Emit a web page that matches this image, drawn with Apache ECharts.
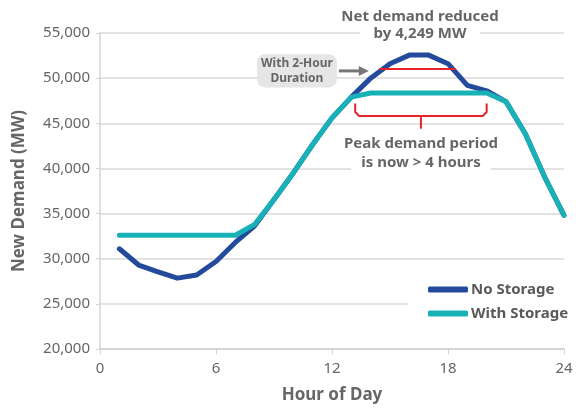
<!DOCTYPE html>
<html lang="en">
<head>
<meta charset="UTF-8">
<title>Net demand with storage</title>
<script src="https://cdn.jsdelivr.net/npm/echarts@6/dist/echarts.min.js"></script>
<style>
  html, body { margin: 0; padding: 0; background: #fff; }
  #chart { width: 580px; height: 417px; }
</style>
</head>
<body>
<div id="chart"></div>
<script>
// hours 1..24
var hours = [1, 2, 3, 4, 5, 6, 7, 8, 9, 10, 11, 12, 13, 14, 15, 16, 17, 18, 19, 20, 21, 22, 23, 24];
var noStorage = [31100, 29300, 28550, 27850, 28200, 29700, 31800, 33650, 36550, 39500, 42650, 45600,
                 47900, 50000, 51600, 52550, 52550, 51600, 49200, 48600, 47400, 43850, 39050, 34800];
var withStorage = [32600, 32600, 32600, 32600, 32600, 32600, 32600, 33800, 36550, 39500, 42650, 45600,
                   47900, 48350, 48350, 48350, 48350, 48350, 48350, 48350, 47400, 43850, 39050, 34800];
var xTicks = [0, 6, 12, 18, 24];
var yTicks = [20000, 25000, 30000, 35000, 40000, 45000, 50000, 55000];
var cutLevel = 51000;   // red line across the peak

var gray = '#666';
var font = 'Noto Sans';
var chart = echarts.init(document.getElementById('chart'));

function pairs(vals) {
  return hours.map(function (h, i) { return [h, vals[i]]; });
}

chart.setOption({
  backgroundColor: '#fff',
  textStyle: { fontFamily: font },
  animation: false,
  grid: { left: 100, right: 16, top: 33, bottom: 68 },
  legend: {
    orient: 'vertical',
    left: 408, top: 279,
    padding: [3, 4, 3, 20],
    backgroundColor: '#fff',
    itemGap: 9,
    itemWidth: 40, itemHeight: 6,
    icon: 'roundRect',
    textStyle: { fontSize: 15, fontWeight: 'bold', color: '#5a5a5a', fontFamily: font, padding: [0, 0, 0, -2] },
    data: ['No Storage', 'With Storage']
  },
  xAxis: {
    type: 'value',
    min: xTicks[0], max: xTicks[xTicks.length - 1], interval: 6,
    name: 'Hour of Day',
    nameLocation: 'middle', nameGap: 38,
    nameTextStyle: { fontSize: 17, fontWeight: 'bold', color: gray },
    axisLine: { lineStyle: { color: '#d4d4d4', width: 2 } },
    axisTick: { show: true, length: 5, lineStyle: { color: '#d4d4d4' } },
    axisLabel: { fontSize: 15, color: gray, margin: 12 },
    splitLine: { show: false }
  },
  yAxis: {
    type: 'value',
    min: yTicks[0], max: yTicks[yTicks.length - 1], interval: 5000,
    name: 'New Demand (MW)',
    nameLocation: 'middle', nameGap: 72, nameRotate: 90,
    nameTextStyle: { fontSize: 17, fontWeight: 'bold', color: gray },
    axisLine: { show: true, lineStyle: { color: '#d4d4d4', width: 1.5 } },
    axisTick: { show: true, length: 4, lineStyle: { color: '#d4d4d4' } },
    axisLabel: {
      fontSize: 15, color: gray, margin: 10,
      formatter: function (v) { return v.toLocaleString('en-US'); }
    },
    splitLine: { lineStyle: { color: '#d9d9d9', width: 1.5 } }
  },
  series: [
    {
      name: 'No Storage', type: 'line',
      data: pairs(noStorage),
      showSymbol: false, symbol: 'none',
      lineStyle: { color: '#234a9b', width: 5, cap: 'round', join: 'round' },
      itemStyle: { color: '#234a9b' },
      markLine: {
        silent: true, symbol: 'none', z: 5,
        label: { show: false },
        lineStyle: { color: '#e8222d', width: 2, type: 'solid' },
        data: [[{ coord: [14.45, cutLevel] }, { coord: [18.4, cutLevel] }]]
      },
      z: 2
    },
    {
      name: 'With Storage', type: 'line',
      data: pairs(withStorage),
      showSymbol: false, symbol: 'none',
      lineStyle: { color: '#18b1b8', width: 5, cap: 'round', join: 'round' },
      itemStyle: { color: '#18b1b8' },
      z: 3
    }
  ]
});

// annotations positioned in data space
function px(h, v) { return chart.convertToPixel({ gridIndex: 0 }, [h, v]); }

var bL = px(13.2, 47200), bR = px(20.0, 45800), stem = px(16.6, 44400);
var r = 4;
var bracket = [
  [bL[0], bL[1]], [bL[0], bR[1] - r], [bL[0] + r, bR[1]],
  [bR[0] - r, bR[1]], [bR[0], bR[1] - r], [bR[0], bL[1]]
];

var boxTL = px(8.12, 52650), boxBR = px(12.25, 48950);
var arrowY = px(0, 50800)[1];
var red = '#e8222d';

chart.setOption({
  graphic: [
    { type: 'polyline', shape: { points: bracket }, style: { stroke: red, lineWidth: 2, fill: null }, z: 10 },
    { type: 'line', shape: { x1: stem[0], y1: bR[1], x2: stem[0], y2: stem[1] }, style: { stroke: red, lineWidth: 2 }, z: 10 },
    {
      type: 'rect',
      shape: { x: boxTL[0], y: boxTL[1], width: boxBR[0] - boxTL[0], height: boxBR[1] - boxTL[1], r: 8 },
      style: { fill: '#e6e6e6' }, z: 10
    },
    {
      type: 'text', z: 11,
      style: {
        x: (boxTL[0] + boxBR[0]) / 2, y: (boxTL[1] + boxBR[1]) / 2,
        text: 'With 2-Hour\nDuration', align: 'center', verticalAlign: 'middle',
        font: 'bold 12px "Noto Sans"', fill: gray, lineHeight: 15
      }
    },
    { type: 'line', shape: { x1: boxBR[0] + 2, y1: arrowY, x2: boxBR[0] + 24, y2: arrowY }, style: { stroke: '#777', lineWidth: 3 }, z: 10 },
    {
      type: 'polygon', z: 10,
      shape: { points: [[boxBR[0] + 22, arrowY - 5], [boxBR[0] + 32, arrowY], [boxBR[0] + 22, arrowY + 5]] },
      style: { fill: '#777' }
    },
    {
      type: 'text', z: 11,
      style: { x: 420, y: 17, text: 'Net demand reduced', align: 'center', verticalAlign: 'middle',
        font: 'bold 15px "Noto Sans"', fill: gray }
    },
    {
      type: 'text', z: 11,
      style: { x: 420, y: 34, text: 'by 4,249 MW', align: 'center', verticalAlign: 'middle',
        font: 'bold 15px "Noto Sans"', fill: gray, backgroundColor: '#fff', padding: [0, 14] }
    },
    {
      type: 'text', z: 11,
      style: { x: 421, y: 144, text: 'Peak demand period', align: 'center', verticalAlign: 'middle',
        font: 'bold 15px "Noto Sans"', fill: gray }
    },
    {
      type: 'text', z: 11,
      style: { x: 421, y: 163, text: 'is now > 4 hours', align: 'center', verticalAlign: 'middle',
        font: 'bold 15px "Noto Sans"', fill: gray, backgroundColor: '#fff', padding: [0, 10] }
    }
  ]
});
</script>
</body>
</html>
